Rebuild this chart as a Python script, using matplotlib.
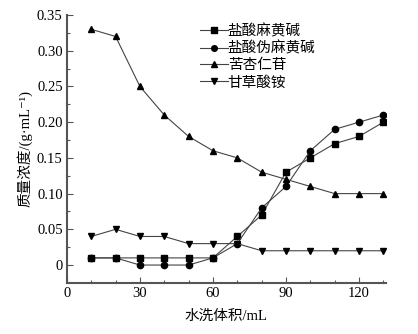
import matplotlib
matplotlib.use("Agg")
import matplotlib.pyplot as plt
from matplotlib.ticker import MultipleLocator, FixedLocator

plt.rcParams['font.family'] = ['Liberation Serif', 'Noto Sans CJK SC', 'DejaVu Sans']

volume = [10, 20, 30, 40, 50, 60, 70, 80, 90, 100, 110, 120, 130]
ephedrine = [0.01, 0.01, 0.01, 0.01, 0.01, 0.01, 0.04, 0.07, 0.13, 0.15, 0.17, 0.18, 0.20]
pseudoephedrine = [0.01, 0.01, 0.00, 0.00, 0.00, 0.01, 0.03, 0.08, 0.11, 0.16, 0.19, 0.20, 0.21]
amygdalin = [0.33, 0.32, 0.25, 0.21, 0.18, 0.16, 0.15, 0.13, 0.12, 0.11, 0.10, 0.10, 0.10]
glycyrrhizinate = [0.04, 0.05, 0.04, 0.04, 0.03, 0.03, 0.03, 0.02, 0.02, 0.02, 0.02, 0.02, 0.02]

series_names = ['盐酸麻黄碱', '盐酸伪麻黄碱', '苦杏仁苷', '甘草酸铵']
series_values = [ephedrine, pseudoephedrine, amygdalin, glycyrrhizinate]
markers = ['s', 'o', '^', 'v']

x_ticks = [0, 30, 60, 90, 120]
y_ticks = [0, 0.05, 0.10, 0.15, 0.20, 0.25, 0.30, 0.35]
y_tick_labels = ['0', '0.05', '0.10', '0.15', '0.20', '0.25', '0.30', '0.35']

fig = plt.figure(figsize=(4.18, 3.34), dpi=100)
ax = fig.add_axes([0.160, 0.153, 0.763, 0.802])

for name, vals, m in zip(series_names, series_values, markers):
    ax.plot(volume, vals, color='#444444', lw=0.8, marker=m, markersize=4.5,
            markerfacecolor='black', markeredgecolor='black', label=name)

ax.set_xlim(0, 131)
ax.set_ylim(-0.025, 0.35)
ax.set_xticks(x_ticks)
ax.xaxis.set_minor_locator(MultipleLocator(10))
ax.set_yticks(y_ticks)
ax.set_yticklabels(y_tick_labels)
ax.yaxis.set_minor_locator(FixedLocator([0.025, 0.075, 0.125, 0.175, 0.225, 0.275, 0.325]))

for side in ['top', 'right']:
    ax.spines[side].set_visible(False)
for side in ['left', 'bottom']:
    ax.spines[side].set_color('#555555')
    ax.spines[side].set_linewidth(1.5)

ax.tick_params(axis='both', which='major', direction='in', length=4, width=0.8,
               color='#555555', labelsize=10.5, pad=3)
ax.tick_params(axis='both', which='minor', direction='in', length=2.5, width=0.8,
               color='#555555')

ax.set_xlabel('水洗体积/mL', fontsize=10.5, labelpad=7)
ax.set_ylabel('质量浓度/(g·mL⁻¹)', fontsize=10.5, labelpad=3)

leg = ax.legend(loc='upper left', bbox_to_anchor=(200 / 418, 1 - 24 / 334),
                bbox_transform=fig.transFigure, frameon=False,
                fontsize=10.5, handlelength=1.9, handletextpad=0.0,
                labelspacing=0.22, borderpad=0.0, borderaxespad=0.0,
                markerscale=0.9)

fig.savefig('out.png', dpi=100)
